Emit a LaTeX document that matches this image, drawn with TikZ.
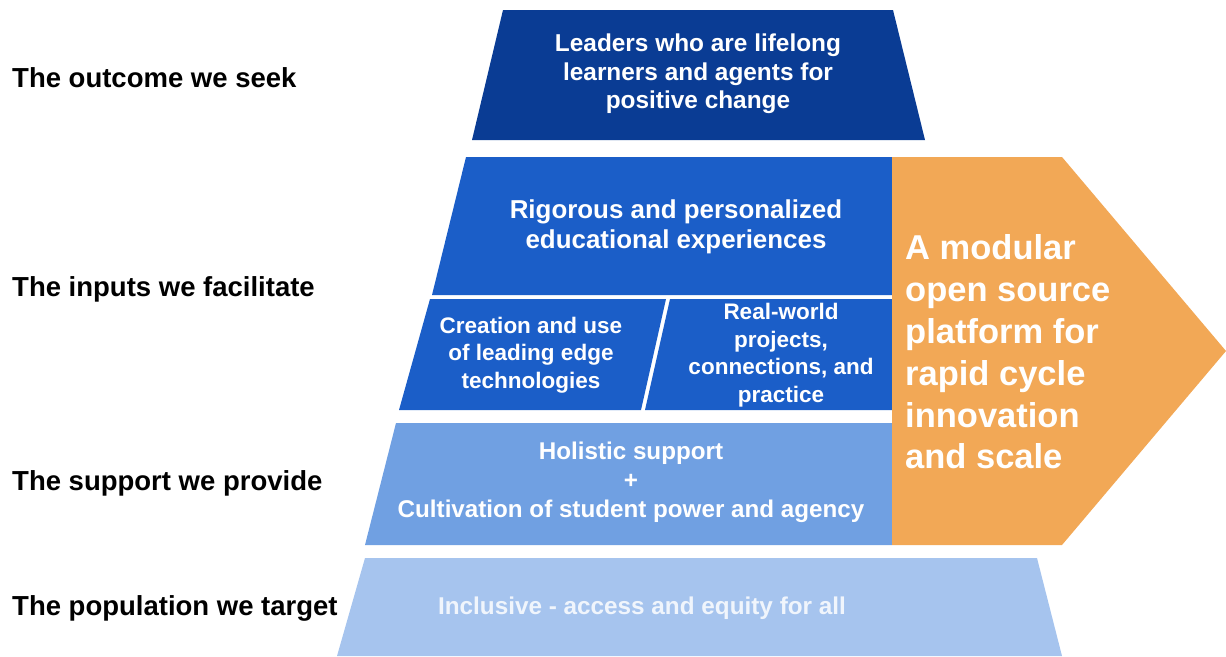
\documentclass[tikz,border=0pt]{standalone}
\usepackage{fontspec}
\setmainfont{Liberation Sans}
\usepackage{tikz}
\usepackage{xcolor}
\definecolor{outcomeblue}{RGB}{10,60,148}
\definecolor{inputblue}{RGB}{27,94,200}
\definecolor{supportblue}{RGB}{112,160,226}
\definecolor{targetblue}{RGB}{166,196,238}
\definecolor{platformorange}{RGB}{242,168,86}
\definecolor{paletext}{RGB}{240,245,252}

\begin{document}
\begin{tikzpicture}[x=1pt, y=-1pt,
  inside/.style={text=white, align=center, inner sep=0pt},
  side/.style={text=black, anchor=base west, inner sep=0pt, font=\bfseries\fontsize{27.5}{32}\selectfont}]
  \useasboundingbox (0,0) rectangle (1226,656);
  \fill [outcomeblue] (503,10)--(893,10)--(925,140)--(472,140)--cycle;
  \fill [inputblue] (466,157)--(892,157)--(892,295)--(432,295)--cycle;
  \fill [inputblue] (430,299)--(666,299)--(641,410)--(399,410)--cycle;
  \fill [inputblue] (670,299)--(892,299)--(892,410)--(645,410)--cycle;
  \fill [supportblue] (396,423)--(892,423)--(892,545)--(365,545)--cycle;
  \fill [targetblue] (365,558)--(1037,558)--(1062,656)--(337,656)--cycle;
  \fill [platformorange] (892,157)--(1062,157)--(1226,351)--(1062,545)--(892,545)--cycle;
  \foreach \y/\t/\n in {87/The outcome we seek/outcome, 296/The inputs we facilitate/inputs,
    490/The support we provide/support, 615/The population we target/target} {
    \node[side] (lbl-\n) at (12,\y) {\t};
  }
  \node[inside, font=\bfseries\fontsize{24.4}{28.5}\selectfont] (leaders) at (698,74)
    {Leaders who are lifelong\\learners and agents for\\positive change};
  \node[inside, font=\bfseries\fontsize{25.9}{30}\selectfont] (rigorous) at (676,227)
    {Rigorous and personalized\\educational experiences};
  \node[inside, font=\bfseries\fontsize{22.5}{27.5}\selectfont] (creation) at (531,355)
    {Creation and use\\of leading edge\\technologies};
  \node[inside, font=\bfseries\fontsize{22.5}{27.5}\selectfont] (realworld) at (781,355)
    {Real-world\\projects,\\connections, and\\practice};
  \node[inside, font=\bfseries\fontsize{24.2}{29}\selectfont] (holistic) at (631,482)
    {Holistic support\\+\\Cultivation of student power and agency};
  \node[inside, text=paletext, anchor=base, font=\bfseries\fontsize{24.3}{29}\selectfont] (inclusive) at (642,614)
    {Inclusive - access and equity for all};
  \node[inside, align=left, anchor=west, font=\bfseries\fontsize{34.5}{41.8}\selectfont] (platform) at (905,352)
    {A modular\\open source\\platform for\\rapid cycle\\innovation\\and scale};
\end{tikzpicture}
\end{document}
